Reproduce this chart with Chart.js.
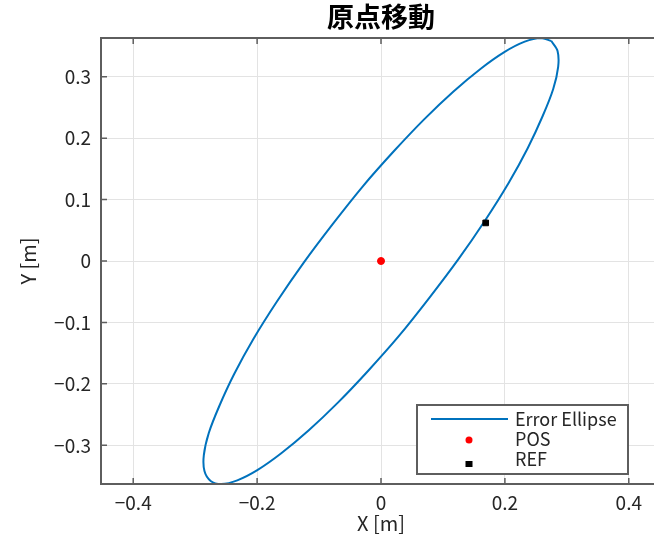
<!DOCTYPE html>
<html>
<head>
<meta charset="utf-8">
<script src="https://cdn.jsdelivr.net/npm/chart.js@4"></script>
<style>
  html, body { margin: 0; padding: 0; background: #fff; }
  #wrap { width: 654px; height: 545px; overflow: hidden; }
  canvas { display: block; }
</style>
</head>
<body>
<div id="wrap"><canvas id="chart" width="666" height="545"></canvas></div>
<script>
// error ellipse outline (closed loop)
const ellipseX = [0.275, 0.258, 0.232, 0.199, 0.161, 0.117, 0.070, 0.021, -0.029, -0.078,
    -0.125, -0.168, -0.206, -0.237, -0.261, -0.278, -0.286, -0.285, -0.275, -0.258,
    -0.232, -0.199, -0.161, -0.117, -0.070, -0.021, 0.029, 0.078, 0.125, 0.168,
    0.206, 0.237, 0.261, 0.278, 0.286, 0.285, 0.275];
const ellipseY = [0.358, 0.363, 0.357, 0.340, 0.313, 0.276, 0.231, 0.179, 0.122, 0.060,
    -0.003, -0.066, -0.127, -0.184, -0.236, -0.280, -0.316, -0.342, -0.358, -0.363,
    -0.357, -0.340, -0.313, -0.276, -0.231, -0.179, -0.122, -0.060, 0.003, 0.066,
    0.127, 0.184, 0.236, 0.280, 0.316, 0.342, 0.358];

const posPoint = [0, 0];
const refPoint = [0.169, 0.062];

const seriesNames = ['Error Ellipse', 'POS', 'REF'];
const xTicks = [-0.4, -0.2, 0, 0.2, 0.4];
const yTicks = [-0.3, -0.2, -0.1, 0, 0.1, 0.2, 0.3];
const xLimits = [-0.452, 0.452];
const yLimits = [-0.363, 0.363];

const FONT = "'Noto Sans CJK JP', 'Liberation Sans', sans-serif";
const axisColor = '#5e5e5e';
const textColor = '#262626';
const blue = '#0072BD';

function fmt(v) {
    if (Math.abs(v) < 1e-9) return '0';
    return v.toFixed(1).replace('-', '\u2212');
}

const frame = {
    id: 'frame',
    afterDraw(chart) {
        const { ctx, chartArea: a, scales: { x, y } } = chart;
        ctx.save();
        // inward tick marks
        ctx.strokeStyle = axisColor;
        ctx.lineWidth = 1.5;
        ctx.beginPath();
        x.ticks.forEach(t => {
            const px = x.getPixelForValue(t.value);
            ctx.moveTo(px, a.bottom); ctx.lineTo(px, a.bottom - 6);
            ctx.moveTo(px, a.top); ctx.lineTo(px, a.top + 6);
        });
        y.ticks.forEach(t => {
            const py = y.getPixelForValue(t.value);
            ctx.moveTo(a.left, py); ctx.lineTo(a.left + 6, py);
        });
        ctx.stroke();
        // axes box
        ctx.lineWidth = 2;
        ctx.strokeRect(a.left, a.top, a.right - a.left, a.bottom - a.top);

        // legend box
        const lx = a.left + 316, ly = a.top + 367, lw = 211, lh = 69;
        ctx.fillStyle = '#fff';
        ctx.fillRect(lx, ly, lw, lh);
        ctx.strokeStyle = axisColor;
        ctx.lineWidth = 2;
        ctx.strokeRect(lx, ly, lw, lh);

        const rows = [ly + 14, ly + 34, ly + 54];
        const tx = lx + 98;
        ctx.font = '18px ' + FONT;
        ctx.fillStyle = textColor;
        ctx.textBaseline = 'middle';
        ctx.textAlign = 'left';
        seriesNames.forEach((n, i) => ctx.fillText(n, tx, rows[i]));

        ctx.strokeStyle = blue;
        ctx.lineWidth = 2;
        ctx.beginPath();
        ctx.moveTo(lx + 14, rows[0]); ctx.lineTo(lx + 91, rows[0]);
        ctx.stroke();

        ctx.fillStyle = 'red';
        ctx.beginPath();
        ctx.arc(lx + 52, rows[1] + 1, 3.5, 0, Math.PI * 2);
        ctx.fill();

        ctx.fillStyle = '#000';
        ctx.fillRect(lx + 48.5, rows[2] + 2, 7, 6);
        ctx.restore();
    }
};

new Chart(document.getElementById('chart'), {
    type: 'scatter',
    data: {
        datasets: [{
            label: seriesNames[0],
            data: ellipseX.map((v, i) => ({ x: v, y: ellipseY[i] })),
            showLine: true,
            borderColor: blue,
            borderWidth: 2,
            pointRadius: 0,
            tension: 0.3,
            order: 3
        }, {
            label: seriesNames[1],
            data: [{ x: posPoint[0], y: posPoint[1] }],
            pointRadius: 3.5,
            backgroundColor: 'red',
            borderColor: 'red',
            order: 1
        }, {
            label: seriesNames[2],
            data: [{ x: refPoint[0], y: refPoint[1] }],
            pointStyle: 'rect',
            pointRadius: 4,
            backgroundColor: '#000',
            borderColor: '#000',
            order: 1
        }]
    },
    options: {
        responsive: false,
        animation: false,
        devicePixelRatio: 1,
        layout: { padding: { left: 0, right: 1, top: 0, bottom: 0 } },
        plugins: {
            legend: { display: false },
            tooltip: { enabled: false },
            title: {
                display: true,
                text: '原点移動',
                fullSize: false,
                color: '#000',
                font: { family: FONT, size: 27, weight: 'bold', lineHeight: 1.2 },
                padding: { top: 1, bottom: 4.6 }
            }
        },
        scales: {
            x: {
                type: 'linear',
                min: xLimits[0],
                max: xLimits[1],
                afterBuildTicks: s => { s.ticks = xTicks.map(v => ({ value: v })); },
                afterFit: s => { s.height = 61; s.paddingLeft = 0; s.paddingRight = 0; },
                grid: { color: '#e3e3e3', lineWidth: 1, drawTicks: false },
                border: { display: false },
                ticks: {
                    color: textColor,
                    padding: 7,
                    font: { family: FONT, size: 19 },
                    callback: v => fmt(v)
                },
                title: {
                    display: true,
                    text: 'X [m]',
                    color: textColor,
                    font: { family: FONT, size: 20 },
                    padding: { top: 0, bottom: 10 }
                }
            },
            y: {
                type: 'linear',
                min: yLimits[0],
                max: yLimits[1],
                afterBuildTicks: s => { s.ticks = yTicks.map(v => ({ value: v })); },
                afterFit: s => { s.width = 101; },
                grid: { color: '#e3e3e3', lineWidth: 1, drawTicks: false },
                border: { display: false },
                ticks: {
                    color: textColor,
                    padding: 10,
                    font: { family: FONT, size: 19 },
                    callback: v => fmt(v)
                },
                title: {
                    display: true,
                    text: 'Y [m]',
                    color: textColor,
                    font: { family: FONT, size: 20 },
                    padding: { top: 16, bottom: 0 }
                }
            }
        }
    },
    plugins: [frame]
});
</script>
</body>
</html>
